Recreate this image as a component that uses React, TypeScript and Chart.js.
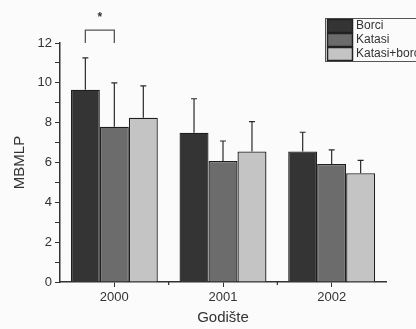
import React, { useEffect, useRef } from "react";
import { Chart, registerables } from "chart.js";

Chart.register(...registerables);

const categories = ["2000", "2001", "2002"];
const seriesNames = ["Borci", "Katasi", "Katasi+borci"];
const borci = [9.65, 7.5, 6.55];
const katasi = [7.8, 6.08, 5.93];
const katasiBorci = [8.25, 6.55, 5.46];
const borciErr = [1.6, 1.7, 0.97];
const katasiErr = [2.2, 1.0, 0.7];
const katasiBorciErr = [1.6, 1.5, 0.65];
const yTicks = [0, 2, 4, 6, 8, 10, 12];
const errors = [borciErr, katasiErr, katasiBorciErr];
const colors = ["#343434", "#6c6c6c", "#c4c4c4"];
const FONT = "'Liberation Sans', Arial, sans-serif";

const overlayPlugin = {
  id: "overlay",
  afterDatasetsDraw(chart: any) {
    const ctx = chart.ctx;
    const y = chart.scales.y;
    const x = chart.scales.x;
    ctx.save();
    // error bars
    ctx.strokeStyle = "#2a2a2a";
    ctx.lineWidth = 1.2;
    chart.data.datasets.forEach((ds: any, di: number) => {
      const meta = chart.getDatasetMeta(di);
      meta.data.forEach((bar: any, i: number) => {
        const v = ds.data[i];
        const e = errors[di][i];
        const y0 = y.getPixelForValue(v);
        const y1 = y.getPixelForValue(v + e);
        ctx.beginPath();
        ctx.moveTo(bar.x, y0);
        ctx.lineTo(bar.x, y1);
        ctx.moveTo(bar.x - 3, y1);
        ctx.lineTo(bar.x + 3, y1);
        ctx.stroke();
      });
    });
    // minor x ticks between categories
    const bottom = chart.chartArea.bottom;
    for (let i = 0; i < categories.length - 1; i++) {
      const px = (x.getPixelForValue(i) + x.getPixelForValue(i + 1)) / 2;
      ctx.beginPath();
      ctx.moveTo(px, bottom);
      ctx.lineTo(px, bottom + 3);
      ctx.stroke();
    }
    // significance bracket
    const b0 = chart.getDatasetMeta(0).data[0];
    const b1 = chart.getDatasetMeta(1).data[0];
    const yLeg = y.getPixelForValue(12);
    const yTop = y.getPixelForValue(12.65);
    ctx.strokeStyle = "#555";
    ctx.lineWidth = 1.3;
    ctx.beginPath();
    ctx.moveTo(b0.x, yLeg);
    ctx.lineTo(b0.x, yTop);
    ctx.lineTo(b1.x, yTop);
    ctx.lineTo(b1.x, yLeg);
    ctx.stroke();
    ctx.fillStyle = "#333";
    ctx.font = `bold 12px ${FONT}`;
    ctx.textAlign = "center";
    ctx.textBaseline = "middle";
    ctx.fillText("*", (b0.x + b1.x) / 2, y.getPixelForValue(13.25));
    // legend
    const lx = 327;
    const ly = 19;
    const sw = 26;
    const sh = 14;
    ctx.strokeStyle = "#555";
    ctx.lineWidth = 1;
    ctx.strokeRect(lx - 1.5, ly - 0.5, 140, sh * 3 + 1);
    chart.data.datasets.forEach((ds: any, di: number) => {
      ctx.fillStyle = colors[di];
      ctx.fillRect(lx, ly + di * sh, sw, sh);
      ctx.strokeStyle = "#222";
      ctx.lineWidth = 1.5;
      ctx.strokeRect(lx + 0.5, ly + di * sh + 0.5, sw - 1, sh - 1);
      ctx.fillStyle = "#333";
      ctx.font = `12px ${FONT}`;
      ctx.textAlign = "left";
      ctx.textBaseline = "middle";
      ctx.fillText(ds.label, lx + sw + 3, ly + di * sh + sh / 2);
    });
    ctx.restore();
  },
};

export default function App() {
  const ref = useRef<HTMLCanvasElement>(null);
  useEffect(() => {
    const values = [borci, katasi, katasiBorci];
    const chart = new Chart(ref.current as HTMLCanvasElement, {
      type: "bar",
      data: {
        labels: categories,
        datasets: seriesNames.map((name, i) => ({
          label: name,
          data: values[i],
          backgroundColor: colors[i],
          borderColor: "#1e1e1e",
          borderWidth: 1.3,
          categoryPercentage: 0.8,
          barPercentage: 1.0,
        })),
      },
      options: {
        animation: false,
        responsive: false,
        layout: { padding: { top: 43, right: 30, left: 0, bottom: 0 } },
        plugins: { legend: { display: false }, tooltip: { enabled: false } },
        scales: {
          x: {
            grid: {
              drawOnChartArea: false,
              offset: false,
              tickLength: 5,
              color: "#333",
              tickColor: "#333",
            },
            border: { color: "#333", width: 1.5 },
            ticks: {
              color: "#333",
              font: { family: FONT, size: 13 },
              padding: 3,
            },
            title: {
              display: true,
              text: "Godište",
              color: "#333",
              font: { family: FONT, size: 15 },
              padding: { top: 0, bottom: 2 },
            },
            afterFit(scale: any) {
              scale.height = 47;
            },
          },
          y: {
            min: 0,
            max: 12,
            grid: {
              drawOnChartArea: false,
              tickLength: 5,
              tickColor: "#333",
            },
            border: { color: "#333", width: 1.5 },
            ticks: {
              stepSize: 1,
              color: "#333",
              font: { family: FONT, size: 13 },
              padding: 3,
              callback: (v: any) => (yTicks.includes(Number(v)) ? String(v) : ""),
            },
            title: {
              display: true,
              text: "MBMLP",
              color: "#333",
              font: { family: FONT, size: 15 },
              padding: { top: 11, bottom: 0 },
            },
            afterFit(scale: any) {
              scale.width = 60;
            },
          },
        },
      },
      plugins: [overlayPlugin],
    });
    return () => chart.destroy();
  }, []);
  return (
    <div style={{ position: "fixed", left: 0, top: 0, width: 416, height: 329, background: "#fbfbfb" }}>
      <canvas ref={ref} width={416} height={329} />
    </div>
  );
}
